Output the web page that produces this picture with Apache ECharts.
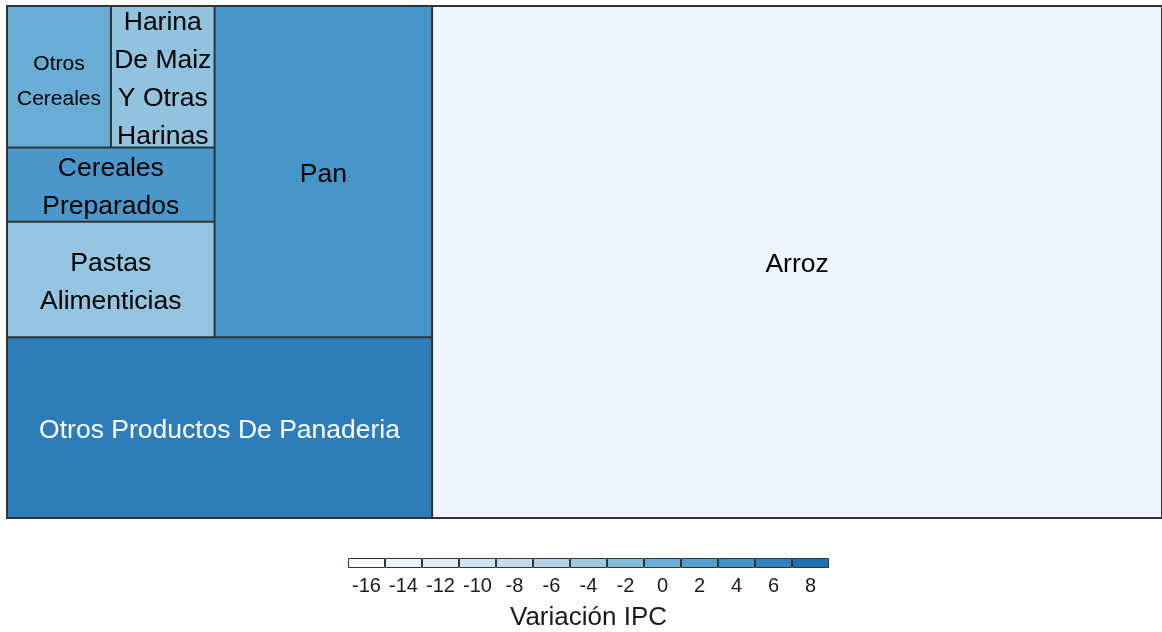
<!DOCTYPE html>
<html>
<head>
<meta charset="utf-8">
<script src="https://cdn.jsdelivr.net/npm/echarts@6/dist/echarts.min.js"></script>
<style>
  html, body { margin: 0; padding: 0; background: #ffffff; }
  #chart { width: 1162px; height: 632px; }
</style>
</head>
<body>
<div id="chart"></div>
<script>
// ---- data ----
const names = ['Arroz', 'Otros Productos De Panaderia', 'Pan', 'Pastas Alimenticias',
               'Cereales Preparados', 'Otros Cereales', 'Harina De Maiz Y Otras Harinas'];
const weights = [63.20, 12.99, 12.19, 4.06, 2.60, 2.49, 2.48];   // share of group (%)
const ipcChange = [-14.5, 6.6, 3.6, -3.2, 3.2, 0.2, -3.0];      // Variación IPC
const legendBreaks = [-16, -14, -12, -10, -8, -6, -4, -2, 0, 2, 4, 6, 8];
const legendTitle = 'Variación IPC';

// ---- colour scale (Blues) ----
const palette = ['#F7FBFF', '#DEEBF7', '#C6DBEF', '#9ECAE1', '#6BAED6', '#4292C6', '#2171B5'];
const domainMin = -16, domainMax = 8;
function hexToRgb(h) { return [1, 3, 5].map(i => parseInt(h.slice(i, i + 2), 16)); }
function colorFor(v) {
  let t = (v - domainMin) / (domainMax - domainMin);
  t = Math.max(0, Math.min(1, t)) * (palette.length - 1);
  const i = Math.min(Math.floor(t), palette.length - 2);
  const f = t - i;
  const a = hexToRgb(palette[i]), b = hexToRgb(palette[i + 1]);
  const c = a.map((x, k) => Math.round(x + (b[k] - x) * f));
  return 'rgb(' + c.join(',') + ')';
}

// wrapped label text
const wrapped = {
  'Otros Cereales': 'Otros\nCereales',
  'Harina De Maiz Y Otras Harinas': 'Harina\nDe Maiz\nY Otras\nHarinas',
  'Cereales Preparados': 'Cereales\nPreparados',
  'Pastas Alimenticias': 'Pastas\nAlimenticias'
};

// nesting of indices so the squarified layout places tiles as in the reference
const nesting = [[[[[[5, 6], 4], 3], 2], 1], 0];

function buildNode(n, path) {
  if (typeof n === 'number') {
    const node = {
      name: names[n],
      value: weights[n],
      itemStyle: { color: colorFor(ipcChange[n]) }
    };
    if (ipcChange[n] > 5) node.label = { color: '#ffffff' };
    if (names[n] === 'Otros Cereales') node.label = { fontSize: 21, lineHeight: 35, offset: [0, 5] };
    return node;
  }
  return {
    name: 'g' + path,
    children: n.map((c, k) => buildNode(c, path + '_' + k)),
    itemStyle: { borderWidth: 0, gapWidth: 0 }
  };
}
const treeData = nesting.map((c, k) => buildNode(c, String(k)));

const chart = echarts.init(document.getElementById('chart'), null, { renderer: 'canvas' });
chart.setOption({
  animation: false,
  backgroundColor: '#ffffff',
  grid: { left: 348, top: 558, width: 481, height: 14 },
  xAxis: {
    type: 'category',
    data: legendBreaks.map(String),
    axisLine: { show: false },
    axisTick: { show: false },
    axisLabel: { interval: 0, fontSize: 20, color: '#1a1a1a', margin: 8, fontFamily: 'Liberation Sans' },
    name: legendTitle,
    nameLocation: 'middle',
    nameGap: 37,
    nameTextStyle: { fontSize: 26, color: '#1a1a1a', fontFamily: 'Liberation Sans' }
  },
  yAxis: { type: 'value', min: 0, max: 1, show: false },
  series: [
    {
      type: 'bar',
      silent: true,
      barWidth: '100%',
      data: legendBreaks.map(v => ({ value: 1, itemStyle: { color: colorFor(v) } })),
      itemStyle: { borderColor: '#333333', borderWidth: 1 }
    },
    {
      type: 'treemap',
      left: 6, top: 5, width: 1157, height: 514,
      roam: false,
      nodeClick: false,
      silent: true,
      sort: false,
      squareRatio: 1,
      breadcrumb: { show: false },
      visibleMin: 0,
      itemStyle: { borderColor: '#333333', borderWidth: 1, gapWidth: 0 },
      label: {
        show: true,
        position: 'inside',
        color: '#000000',
        fontSize: 26.5,
        lineHeight: 38,
        fontFamily: 'Liberation Sans',
        padding: [-12, 0, -12, 0],
        offset: [0, 3],
        overflow: 'none',
        formatter: p => wrapped[p.name] || p.name
      },
      upperLabel: { show: false },
      emphasis: { disabled: true },
      data: treeData
    }
  ]
});
</script>
</body>
</html>
